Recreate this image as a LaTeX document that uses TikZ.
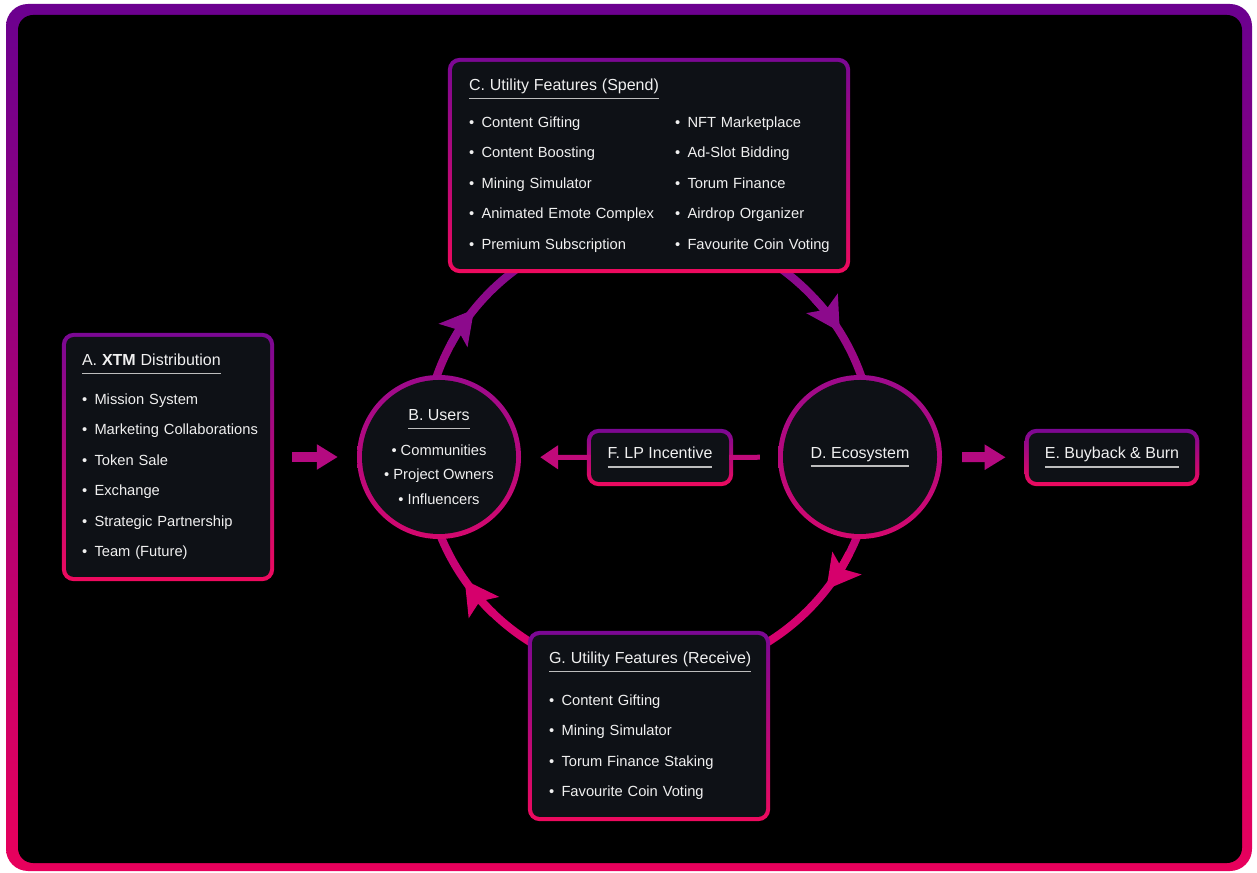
\documentclass[tikz,border=0pt]{standalone}
\usepackage{fontspec}
\setmainfont{Liberation Sans}
\usetikzlibrary{arrows.meta,positioning,backgrounds,calc}
\definecolor{frametop}{HTML}{6B008F}
\definecolor{framebot}{HTML}{E8005C}
\definecolor{brdtop}{HTML}{7A0894}
\definecolor{brdbot}{HTML}{EE0A5E}
\definecolor{circtop}{HTML}{9C0A8C}
\definecolor{circbot}{HTML}{D4086E}
\definecolor{ringtop}{HTML}{7C0A90}
\definecolor{ringbot}{HTML}{E2006A}
\definecolor{arrtop}{HTML}{8C0A8C}
\definecolor{arrbot}{HTML}{D6006C}
\definecolor{flowc}{HTML}{B40A80}
\definecolor{linkc}{HTML}{C00A7A}
\definecolor{panelc}{HTML}{0E1116}
\definecolor{titlec}{HTML}{F0F0F0}
\definecolor{itemc}{HTML}{BDBDBD}
\definecolor{rulec}{HTML}{BDBDBD}
\newcommand\ttl[1]{\setbox0=\hbox{\fontsize{16}{19}\selectfont\color{titlec}#1}\leavevmode\rlap{\color{rulec}\rule[-8.7pt]{\wd0}{1.4pt}}\box0}
\newcommand\itm[1]{\mbox{\makebox[12.5pt][l]{\color{titlec}\textbullet}#1}}
\newcommand\ctm[1]{\mbox{{\color{titlec}\textbullet}~#1}}

\begin{document}
\begin{tikzpicture}
[x=1pt,y=1pt,
panel/.style={fill=panelc,rounded corners=8pt,text=itemc,inner xsep=16pt,inner ysep=0pt,font=\fontsize{14.7}{30.5}\selectfont},
listbox/.style={panel,align=left},
tag/.style={panel,align=center,minimum height=49pt},
hubnode/.style={circle,fill=panelc,minimum size=154pt,inner sep=0pt,align=center,text=itemc,font=\fontsize{14.7}{24.5}\selectfont},
flow/.style={flowc,line width=10pt,-{Triangle[length=21pt,width=24pt]}},
link/.style={linkc,line width=5pt},
ringtip/.style={line width=8pt,-{Stealth[length=33pt,width=36pt,inset=7pt]}}]
\useasboundingbox (0,0) rectangle (1257,872);
\coordinate (hub) at (649,421);
%%
\node[listbox,text width=172pt,minimum height=240pt] (dist) at (168,415) {\ttl{A. \textbf{XTM} Distribution}\\[8pt]
\itm{Mission System}\\
\itm{Marketing Collaborations}\\
\itm{Token Sale}\\
\itm{Exchange}\\
\itm{Strategic Partnership}\\
\itm{Team (Future)}};
%%
\node[hubnode] (users) at (439,415) {\ttl{B. Users}\\[10.5pt]
\ctm{Communities}\\
\ctm{Project Owners}\\
\ctm{Influencers}};
%%
\node[listbox,text width=360pt,minimum height=207pt,inner xsep=17pt] (spend) at (649,706.5) {\ttl{C. Utility Features (Spend)}\\[6pt]
\parbox[t]{206pt}{\itm{Content Gifting}\\
\itm{Content Boosting}\\
\itm{Mining Simulator}\\
\itm{Animated Emote Complex}\\
\itm{Premium Subscription}}\parbox[t]{154pt}{\itm{NFT Marketplace}\\
\itm{Ad-Slot Bidding}\\
\itm{Torum Finance}\\
\itm{Airdrop Organizer}\\
\itm{Favourite Coin Voting}}};
%%
\node[hubnode] (eco) at (860,415) {\ttl{D. Ecosystem}};
%%
\node[tag,minimum width=166pt] (burn) at (1112,414.5) {\ttl{E. Buyback \& Burn}};
%%
\node[tag,minimum width=138pt] (lp) at (660,414.5) {\ttl{F. LP Incentive}};
%%
\node[listbox,text width=200pt,minimum height=182pt,inner xsep=17pt] (receive) at (649,146) {\ttl{G. Utility Features (Receive)}\\[11pt]
\itm{Content Gifting}\\
\itm{Mining Simulator}\\
\itm{Torum Finance Staking}\\
\itm{Favourite Coin Voting}};
%%
\draw[flow,shorten <=22pt,shorten >=24pt] (dist) -- (users);
\draw[flow,shorten <=25pt,shorten >=23pt] (eco) -- (burn);
\draw[link,shorten <=23pt] (eco) -- (lp);
\draw[link,shorten >=24pt,-{Triangle[length=18pt,width=23pt]}] (lp) -- (users);
%%
\foreach \a/\c in {141/arrtop,32/arrtop,-38/arrbot,215/arrbot}
  \draw[ringtip,\c] ($(hub)+(\a+11:225)$) arc[start angle=\a+11,end angle=\a,radius=225];
%%
\begin{scope}[on background layer]
\shade[top color=frametop,bottom color=framebot,rounded corners=22pt] (6,1) rectangle (1252,868);
\fill[black,rounded corners=15pt] (18,9) rectangle (1242,857);
\shade[top color=ringtop,bottom color=ringbot,even odd rule] (hub) circle[radius=229] (hub) circle[radius=221];
\foreach \n in {dist,spend,receive,lp,burn}
  \shade[top color=brdtop,bottom color=brdbot,rounded corners=12pt] ($(\n.south west)+(-4,-4)$) rectangle ($(\n.north east)+(4,4)$);
\foreach \n in {users,eco}
  \shade[top color=circtop,bottom color=circbot] (\n.center) circle[radius=82];
\end{scope}
\end{tikzpicture}
\end{document}
